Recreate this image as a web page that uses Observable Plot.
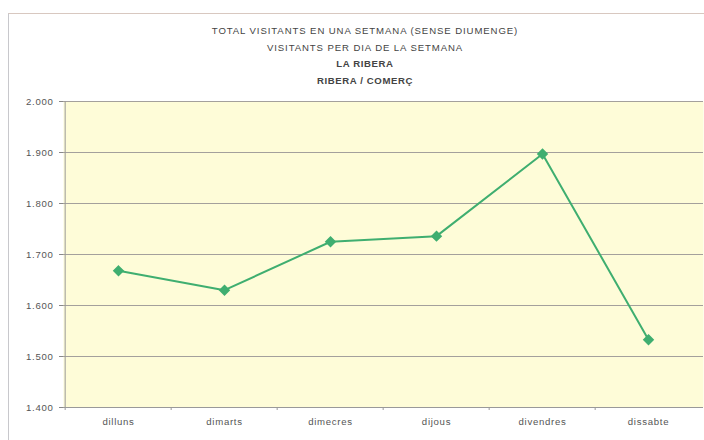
<!DOCTYPE html>
<html>
<head>
<meta charset="utf-8">
<script src="https://cdn.jsdelivr.net/npm/d3@7"></script>
<script src="https://cdn.jsdelivr.net/npm/@observablehq/plot@0.6"></script>
<style>
  html, body { margin: 0; padding: 0; background: #fff; }
  #wrap { position: relative; width: 704px; height: 440px; overflow: hidden; font-family: "Liberation Sans", Arial, sans-serif; }
  #frame { position: absolute; left: 8px; top: 13px; right: -2px; bottom: -2px; border-left: 1px solid #c8c8cc; border-top: 1px solid #d8c8c0; }
  .t { position: absolute; left: 0; width: 730px; text-align: center; font-size: 9.6px; color: #444; letter-spacing: 0.9px; white-space: nowrap; }
  .b { font-weight: bold; letter-spacing: 0.6px; }
  #chart { position: absolute; left: 0; top: 0; }
  #chart text { letter-spacing: 0.7px; }
</style>
</head>
<body>
<div id="wrap">
  <div id="frame"></div>
  <div id="chart"></div>
  <div class="t" style="top:25px">TOTAL VISITANTS EN UNA SETMANA (SENSE DIUMENGE)</div>
  <div class="t" style="top:42px">VISITANTS PER DIA DE LA SETMANA</div>
  <div class="t b" style="top:58px">LA RIBERA</div>
  <div class="t b" style="top:75px">RIBERA / COMERÇ</div>
</div>
<script>
const days = ["dilluns", "dimarts", "dimecres", "dijous", "divendres", "dissabte"];
const visitants = [1668, 1630, 1725, 1736, 1897, 1533];
const yTicks = [1400, 1500, 1600, 1700, 1800, 1900, 2000];

const data = days.map((d, i) => ({day: d, value: visitants[i]}));
const fmt = v => d3.format(",")(v).replace(/,/g, ".");
const lineColor = "#3fae70";

const W = 704, H = 440, mL = 63, mR = 1;
const bw = (W - mL - mR) / days.length;

const chart = Plot.plot({
  width: W,
  height: H,
  marginTop: 101,
  marginBottom: 33,
  marginLeft: mL,
  marginRight: mR,
  style: {fontFamily: "Liberation Sans, Arial, sans-serif", fontSize: "9.6px", color: "#444", background: "transparent"},
  x: {type: "band", domain: days, padding: 0, label: null},
  y: {domain: [1400, 2000], label: null},
  marks: [
    Plot.frame({fill: "#fefcd8", stroke: null}),
    Plot.gridY(yTicks, {stroke: "#a4a09c", strokeOpacity: 1, strokeWidth: 1.2}),
    Plot.ruleX([days[0]], {stroke: "#999", dx: -bw / 2}),
    Plot.ruleY([1400], {stroke: "#999"}),
    Plot.axisY(yTicks, {tickFormat: fmt, tickSize: 4, tickPadding: 6, stroke: "#888", fill: "#555"}),
    Plot.axisX({tickSize: 0, tickPadding: 11, fill: "#555"}),
    Plot.axisX({tickSize: 3, text: null, dx: -bw / 2, stroke: "#999"}),
    Plot.line(data, {x: "day", y: "value", stroke: lineColor, strokeWidth: 2}),
    Plot.dot(data, {x: "day", y: "value", symbol: "diamond2", r: 4.2, fill: lineColor, stroke: lineColor})
  ]
});
document.getElementById("chart").append(chart);
</script>
</body>
</html>
